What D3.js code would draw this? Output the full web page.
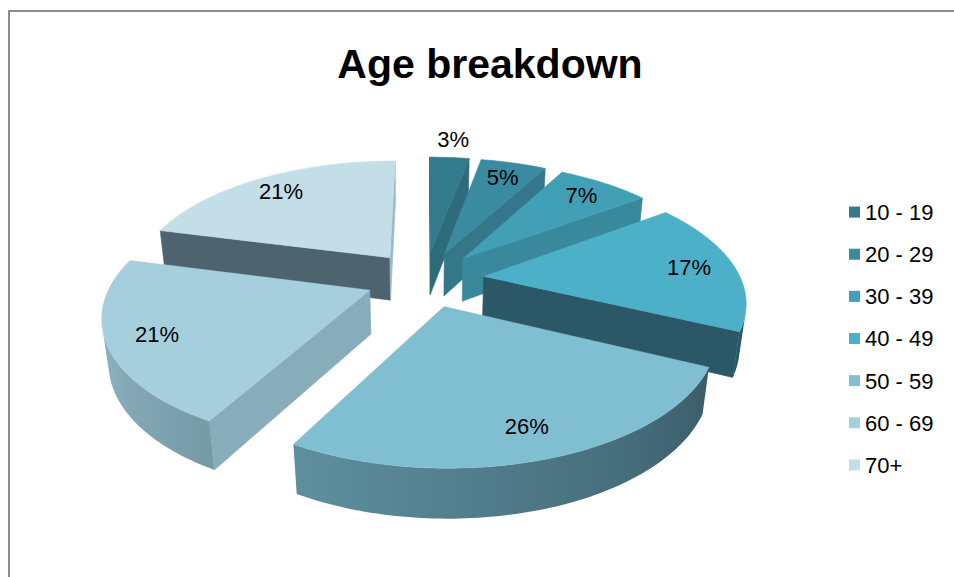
<!DOCTYPE html>
<html>
<head>
<meta charset="utf-8">
<script src="https://cdn.jsdelivr.net/npm/d3@7"></script>
<style>
  html, body { margin: 0; padding: 0; background: #ffffff; }
  svg { display: block; font-family: "Liberation Sans", Arial, sans-serif; }
</style>
</head>
<body>
<svg id="chart" width="954" height="577"></svg>
<script>
// ---- data ----
const categories = ["10 - 19", "20 - 29", "30 - 39", "40 - 49", "50 - 59", "60 - 69", "70+"];
const shares = [3, 5, 7, 17, 26, 21, 21];
const colors = ["#327b8c", "#3a8aa0", "#419fb6", "#4bb0c8", "#80bfd1", "#a6cfdd", "#c3dee7"];
const chartTitle = "Age breakdown";

// ---- layout ----
const W = 954, H = 577;
const svg = d3.select("#chart");

// chart frame
svg.append("rect")
  .attr("x", 9).attr("y", 11)
  .attr("width", W + 20).attr("height", H + 20)
  .attr("fill", "none").attr("stroke", "#8c8c8c").attr("stroke-width", 2);

svg.append("text")
  .attr("x", 490).attr("y", 78)
  .attr("text-anchor", "middle")
  .attr("font-size", 41).attr("font-weight", "bold")
  .attr("fill", "#000")
  .text(chartTitle);

// ---- 3D pie camera ----
const cam = {
  cx: 425,          // screen x of pie centre
  topY: 279,        // screen y of pie centre (top face)
  F: 1235,          // focal length (px)
  D: 4.9,           // camera distance (pie radius = 1)
  phi: 30.1 * Math.PI / 180, // elevation
  h: 0.195,         // pie thickness
  explode: 0.23,    // radial explosion of every slice
  labelR: 0.82,     // label radius on the top face
  outerLabelR: 1.24 // label radius for slim slices
};
const sphi = Math.sin(cam.phi), cphi = Math.cos(cam.phi);
const cy = cam.topY + cam.F * cam.h * cphi / (cam.D - cam.h * sphi);
const camPos = [0, cam.D * sphi, cam.D * cphi];

function project(X, Y, Z) {
  const depth = cam.D - Y * sphi - Z * cphi;
  const sy = Y * cphi - Z * sphi;
  return [cam.cx + cam.F * X / depth, cy - cam.F * sy / depth, depth];
}

const arcs = d3.pie().value(d => d).sort(null)(shares);
const dark = "#1f3540";
const defs = svg.append("defs");
const line = d3.line();
const deg = 180 / Math.PI;

const slices = arcs.map((a, i) => {
  const mid = (a.startAngle + a.endAngle) / 2;
  const ox = cam.explode * Math.sin(mid), oz = -cam.explode * Math.cos(mid);
  const pt = (r, th, Y) => project(ox + r * Math.sin(th), Y, oz - r * Math.cos(th));
  const c = project(ox + 0.5 * Math.sin(mid), 0, oz - 0.5 * Math.cos(mid));
  return { a, i, mid, ox, oz, pt, depth: c[2] };
});

// farthest slices first
slices.sort((p, q) => q.depth - p.depth);

// outer wall darkening: lit from the left, darker towards the right
const shade = th => Math.max(0.08, Math.min(0.85, 0.1 + (270 - th * deg) * 0.004));
// flat radial walls
const radialShade = (nx, nz) => nx > 0.3 ? 0.22 : (nz > 0.5 ? 0.72 : 0.45);

const g = svg.append("g");
slices.forEach(s => {
  const { a, i, ox, oz, pt } = s;
  const base = colors[i];
  const sg = g.append("g");
  const n = Math.max(8, Math.ceil((a.endAngle - a.startAngle) / 0.02));
  const visible = (nx, nz, P) => nx * (camPos[0] - P[0]) + nz * (camPos[2] - P[2]) > 0;

  // radial walls
  [[a.startAngle, -1], [a.endAngle, 1]].forEach(([th, sgn]) => {
    const nx = sgn * Math.cos(th), nz = sgn * Math.sin(th);
    if (!visible(nx, nz, [ox, 0, oz])) return;
    const poly = [pt(0, th, 0), pt(0, th, cam.h), pt(1, th, cam.h), pt(1, th, 0)].map(p => [p[0], p[1]]);
    const col = d3.interpolateRgb(base, dark)(radialShade(nx, nz));
    sg.append("path")
      .attr("d", line(poly) + "Z")
      .attr("fill", col).attr("stroke", col).attr("stroke-width", 0.6);
  });

  // outer curved wall (front-facing part only)
  const ths = d3.range(n + 1).map(k => a.startAngle + (a.endAngle - a.startAngle) * k / n);
  const vis = ths.filter(th => {
    const P = [ox + Math.sin(th), 0, oz - Math.cos(th)];
    return visible(Math.sin(th), -Math.cos(th), P);
  });
  if (vis.length > 1) {
    const top = vis.map(th => pt(1, th, cam.h));
    const bot = vis.map(th => pt(1, th, 0)).reverse();
    const poly = top.concat(bot).map(p => [p[0], p[1]]);
    const id = "wall" + i;
    const x0 = top[0][0], x1 = top[top.length - 1][0];
    const grad = defs.append("linearGradient").attr("id", id)
      .attr("gradientUnits", "userSpaceOnUse")
      .attr("x1", x0).attr("x2", x1).attr("y1", 0).attr("y2", 0);
    d3.range(9).forEach(k => {
      const th = vis[0] + (vis[vis.length - 1] - vis[0]) * k / 8;
      const x = pt(1, th, cam.h)[0];
      const off = x1 === x0 ? 0 : (x - x0) / (x1 - x0);
      grad.append("stop").attr("offset", Math.max(0, Math.min(1, off)))
        .attr("stop-color", d3.interpolateRgb(base, dark)(shade(th)));
    });
    sg.append("path").attr("d", line(poly) + "Z")
      .attr("fill", `url(#${id})`);
  }

  // top face
  const topPoly = [pt(0, 0, cam.h)].concat(ths.map(th => pt(1, th, cam.h))).map(p => [p[0], p[1]]);
  sg.append("path").attr("d", line(topPoly) + "Z")
    .attr("fill", base).attr("stroke", base).attr("stroke-width", 0.5);
});

// percentage labels
const lg = svg.append("g").attr("font-size", 22).attr("fill", "#000").attr("text-anchor", "middle");
slices.forEach(s => {
  const r = s.a.value < 4 ? cam.outerLabelR : cam.labelR;
  const p = s.pt(r, s.mid, cam.h);
  lg.append("text").attr("x", p[0]).attr("y", p[1]).attr("dy", "0.36em")
    .text(d3.format(".0%")(s.a.value / d3.sum(shares)));
});

// legend
const ly = d3.scaleBand().domain(categories).range([191, 486]);
const leg = svg.append("g");
categories.forEach((c, i) => {
  const yc = ly(c) + ly.bandwidth() / 2;
  leg.append("rect").attr("x", 849).attr("y", yc - 5.5).attr("width", 11).attr("height", 11).attr("fill", colors[i]);
  leg.append("text").attr("x", 865).attr("y", yc).attr("dy", "0.36em")
    .attr("font-size", 22).attr("fill", "#000").text(c);
});
</script>
</body>
</html>
